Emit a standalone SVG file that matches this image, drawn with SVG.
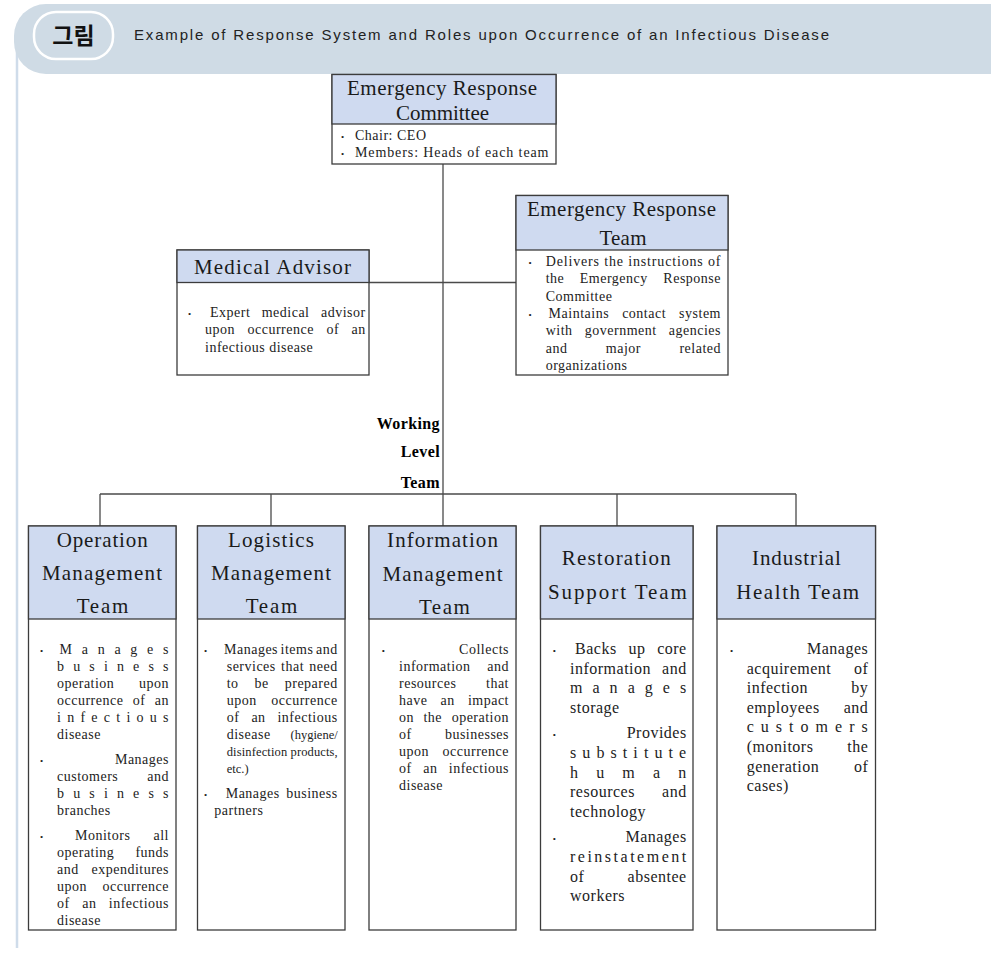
<svg xmlns="http://www.w3.org/2000/svg" width="991" height="956" viewBox="0 0 991 956">
<style>
.hd{fill:#cfdaf0;stroke:#3c3c3c;stroke-width:1.3}
.bx{fill:#ffffff;stroke:#3c3c3c;stroke-width:1.3}
.ln{fill:none;stroke:#4a4a4a;stroke-width:1.3}
.h{font-family:"Liberation Serif","DejaVu Serif",serif;font-size:21px;fill:#1a1a1a;text-anchor:middle}
.t{font-family:"Liberation Serif","DejaVu Serif",serif;font-size:14px;letter-spacing:0.5px;fill:#222}
.tl{font-family:"Liberation Serif","DejaVu Serif",serif;font-size:16px;letter-spacing:0.5px;fill:#222}
.cd{font-family:"Liberation Serif","DejaVu Serif",serif;font-size:12.5px;fill:#222}
.bl{font-family:"Liberation Serif","DejaVu Serif",serif;font-size:9px;fill:#222;text-anchor:middle}
.e{text-anchor:end}
.m{text-anchor:middle}
.wl{font-family:"Liberation Serif","DejaVu Serif",serif;font-size:16px;font-weight:bold;letter-spacing:0.4px;fill:#000;text-anchor:end}
</style>
<g id="frame">
<line x1="17" y1="40" x2="991" y2="40" stroke="#8c8c8c" stroke-width="1"/>
<line x1="17" y1="40" x2="17" y2="948" stroke="#cfdcea" stroke-width="2.5"/>
<rect x="14" y="4" width="1010" height="70" rx="32" fill="#cfdbe5"/>
<rect x="34" y="12" width="79" height="47" rx="22" fill="#cfdbe5" stroke="#ffffff" stroke-width="2.5"/>
<text x="73.5" y="44" font-family="'Noto Sans CJK KR','Noto Sans',sans-serif" font-size="23" font-weight="bold" fill="#111" text-anchor="middle">그림</text>
<text x="134" y="40" font-family="'Liberation Sans',Arial,sans-serif" font-size="15" fill="#222" textLength="695" lengthAdjust="spacing">Example of Response System and Roles upon Occurrence of an Infectious Disease</text>
</g>
<g id="connectors">
<line class="ln" x1="443" y1="164" x2="443" y2="526"/>
<line class="ln" x1="369" y1="282.5" x2="516" y2="282.5"/>
<line class="ln" x1="100" y1="494" x2="796" y2="494"/>
<line class="ln" x1="100" y1="494" x2="100" y2="526"/>
<line class="ln" x1="271" y1="494" x2="271" y2="526"/>
<line class="ln" x1="617" y1="494" x2="617" y2="526"/>
<line class="ln" x1="796" y1="494" x2="796" y2="526"/>
</g>
<g id="working-level-label">
<text class="wl" x="440" y="429">Working</text>
<text class="wl" x="440" y="457">Level</text>
<text class="wl" x="440" y="488">Team</text>
</g>
<g id="committee">
<rect class="bx" x="332" y="74.5" width="224" height="89.5"/>
<rect class="hd" x="332" y="74.5" width="224" height="49.5"/>
<text class="h" x="442" y="95" textLength="190" lengthAdjust="spacing">Emergency Response</text>
<text class="h" x="442.5" y="119.5" textLength="93" lengthAdjust="spacing">Committee</text>
<text class="bl" x="342.5" y="139.5">•</text>
<text class="t" x="355" y="139.5">Chair: CEO</text>
<text class="bl" x="342.5" y="156.5">•</text>
<text class="t" x="355" y="156.5" textLength="194" lengthAdjust="spacing">Members: Heads of each team</text>
</g>
<g id="emergency-response-team">
<rect class="bx" x="516" y="195.5" width="212" height="179.5"/>
<rect class="hd" x="516" y="195.5" width="212" height="54.5"/>
<text class="h" x="621.5" y="216" textLength="189" lengthAdjust="spacing">Emergency Response</text>
<text class="h" x="623" y="245" textLength="47" lengthAdjust="spacing">Team</text>
<text class="bl" x="530" y="266">•</text>
<text class="t" x="545.7" y="266" textLength="175.3" lengthAdjust="spacing">Delivers the instructions of</text>
<text class="t" x="545.7" y="283.3">the</text>
<text class="t m" x="613.8" y="283.3">Emergency</text>
<text class="t e" x="721" y="283.3">Response</text>
<text class="t" x="545.7" y="300.6">Committee</text>
<text class="bl" x="530" y="318">•</text>
<text class="t" x="548.6" y="318">Maintains</text>
<text class="t m" x="644.1" y="318">contact</text>
<text class="t e" x="721" y="318">system</text>
<text class="t" x="545.7" y="335.3">with</text>
<text class="t m" x="620.7" y="335.3">government</text>
<text class="t e" x="721" y="335.3">agencies</text>
<text class="t" x="545.7" y="352.6">and</text>
<text class="t m" x="623.4" y="352.6">major</text>
<text class="t e" x="721" y="352.6">related</text>
<text class="t" x="545.7" y="370">organizations</text>
</g>
<g id="medical-advisor">
<rect class="bx" x="177" y="250" width="192" height="125"/>
<rect class="hd" x="177" y="250" width="192" height="32.5"/>
<text class="h" x="272.5" y="274" textLength="157" lengthAdjust="spacing">Medical Advisor</text>
<text class="bl" x="189.6" y="317">•</text>
<text class="t" x="210" y="317">Expert</text>
<text class="t m" x="285.6" y="317">medical</text>
<text class="t e" x="365.7" y="317">advisor</text>
<text class="t" x="205" y="334.3">upon</text>
<text class="t" x="247.5" y="334.3">occurrence</text>
<text class="t" x="326.4" y="334.3">of</text>
<text class="t e" x="365.7" y="334.3">an</text>
<text class="t" x="205" y="351.6">infectious disease</text>
</g>
<g id="operation-management-team">
<rect class="bx" x="28.5" y="526" width="147.5" height="404"/>
<rect class="hd" x="28.5" y="526" width="147.5" height="93"/>
<text class="h" x="102.2" y="547" textLength="91" lengthAdjust="spacing">Operation</text>
<text class="h" x="102" y="580" textLength="120" lengthAdjust="spacing">Management</text>
<text class="h" x="102.5" y="613" textLength="51.6" lengthAdjust="spacing">Team</text>
<text class="bl" x="41.7" y="654">•</text>
<text class="t" x="59.5" y="654" textLength="109.5" lengthAdjust="spacing">Manages</text>
<text class="t" x="57" y="671" textLength="112" lengthAdjust="spacing">business</text>
<text class="t" x="57" y="688">operation</text>
<text class="t e" x="169" y="688">upon</text>
<text class="t" x="57" y="705">occurrence</text>
<text class="t m" x="139.1" y="705">of</text>
<text class="t e" x="169" y="705">an</text>
<text class="t" x="57" y="722" textLength="112" lengthAdjust="spacing">infectious</text>
<text class="t" x="57" y="739">disease</text>
<text class="bl" x="41.7" y="764">•</text>
<text class="t e" x="169" y="764">Manages</text>
<text class="t" x="57" y="781">customers</text>
<text class="t e" x="169" y="781">and</text>
<text class="t" x="57" y="798" textLength="112" lengthAdjust="spacing">business</text>
<text class="t" x="57" y="815">branches</text>
<text class="bl" x="41.7" y="840">•</text>
<text class="t" x="75" y="840">Monitors</text>
<text class="t e" x="169" y="840">all</text>
<text class="t" x="57" y="857">operating</text>
<text class="t e" x="169" y="857">funds</text>
<text class="t" x="57" y="874">and</text>
<text class="t e" x="169" y="874">expenditures</text>
<text class="t" x="57" y="891">upon</text>
<text class="t e" x="169" y="891">occurrence</text>
<text class="t" x="57" y="908">of</text>
<text class="t m" x="89.3" y="908">an</text>
<text class="t e" x="169" y="908">infectious</text>
<text class="t" x="57" y="925">disease</text>
</g>
<g id="logistics-management-team">
<rect class="bx" x="197.5" y="526" width="147.5" height="404"/>
<rect class="hd" x="197.5" y="526" width="147.5" height="93"/>
<text class="h" x="271" y="547" textLength="86" lengthAdjust="spacing">Logistics</text>
<text class="h" x="271" y="580" textLength="120" lengthAdjust="spacing">Management</text>
<text class="h" x="271.5" y="613" textLength="51.6" lengthAdjust="spacing">Team</text>
<text class="bl" x="205.7" y="654">•</text>
<text class="t" x="224" y="654">Manages</text>
<text class="t m" x="297" y="654">items</text>
<text class="t e" x="337.7" y="654">and</text>
<text class="t" x="226.7" y="671">services</text>
<text class="t m" x="292.6" y="671">that</text>
<text class="t e" x="337.7" y="671">need</text>
<text class="t" x="226.7" y="688">to</text>
<text class="t m" x="261.7" y="688">be</text>
<text class="t e" x="337.7" y="688">prepared</text>
<text class="t" x="226.7" y="705">upon</text>
<text class="t e" x="337.7" y="705">occurrence</text>
<text class="t" x="226.7" y="722">of</text>
<text class="t m" x="258.5" y="722">an</text>
<text class="t e" x="337.7" y="722">infectious</text>
<text class="t" x="226.7" y="739">disease</text>
<text class="cd e" x="337.7" y="739">(hygiene/</text>
<text class="cd" x="226.7" y="756" textLength="111" lengthAdjust="spacing">disinfection products,</text>
<text class="cd" x="226.7" y="773">etc.)</text>
<text class="bl" x="205.7" y="798">•</text>
<text class="t" x="225.7" y="798">Manages</text>
<text class="t e" x="337.7" y="798">business</text>
<text class="t" x="214.3" y="815">partners</text>
</g>
<g id="information-management-team">
<rect class="bx" x="369" y="526" width="147" height="404"/>
<rect class="hd" x="369" y="526" width="147" height="93"/>
<text class="h" x="442.5" y="547" textLength="110.8" lengthAdjust="spacing">Information</text>
<text class="h" x="442.5" y="580.8" textLength="120" lengthAdjust="spacing">Management</text>
<text class="h" x="444.4" y="614" textLength="51" lengthAdjust="spacing">Team</text>
<text class="bl" x="383.3" y="654">•</text>
<text class="t e" x="509" y="654">Collects</text>
<text class="t" x="399" y="671">information</text>
<text class="t e" x="509" y="671">and</text>
<text class="t" x="399" y="688">resources</text>
<text class="t e" x="509" y="688">that</text>
<text class="t" x="399" y="705">have</text>
<text class="t m" x="447.6" y="705">an</text>
<text class="t e" x="509" y="705">impact</text>
<text class="t" x="399" y="722">on</text>
<text class="t m" x="432.8" y="722">the</text>
<text class="t e" x="509" y="722">operation</text>
<text class="t" x="399" y="739">of</text>
<text class="t e" x="509" y="739">businesses</text>
<text class="t" x="399" y="756">upon</text>
<text class="t e" x="509" y="756">occurrence</text>
<text class="t" x="399" y="773">of</text>
<text class="t m" x="430.3" y="773">an</text>
<text class="t e" x="509" y="773">infectious</text>
<text class="t" x="399" y="790">disease</text>
</g>
<g id="restoration-support-team">
<rect class="bx" x="540.5" y="526" width="152.5" height="404"/>
<rect class="hd" x="540.5" y="526" width="152.5" height="93"/>
<text class="h" x="616.2" y="564.5" textLength="109" lengthAdjust="spacing">Restoration</text>
<text class="h" x="617.4" y="598.5" textLength="139" lengthAdjust="spacing">Support Team</text>
<text class="bl" x="554.3" y="654">•</text>
<text class="tl" x="575" y="654">Backs</text>
<text class="tl m" x="636.9" y="654">up</text>
<text class="tl e" x="686.7" y="654">core</text>
<text class="tl" x="570" y="673.6">information</text>
<text class="tl e" x="686.7" y="673.6">and</text>
<text class="tl" x="570" y="693.2" textLength="116.7" lengthAdjust="spacing">manages</text>
<text class="tl" x="570" y="712.8">storage</text>
<text class="bl" x="554.3" y="738.4">•</text>
<text class="tl e" x="686.7" y="738.4">Provides</text>
<text class="tl" x="570" y="758" textLength="116.7" lengthAdjust="spacing">substitute</text>
<text class="tl" x="570" y="777.6" textLength="116.7" lengthAdjust="spacing">human</text>
<text class="tl" x="570" y="797.2">resources</text>
<text class="tl e" x="686.7" y="797.2">and</text>
<text class="tl" x="570" y="816.8">technology</text>
<text class="bl" x="554.3" y="842.4">•</text>
<text class="tl e" x="686.7" y="842.4">Manages</text>
<text class="tl" x="570" y="862" textLength="116.7" lengthAdjust="spacing">reinstatement</text>
<text class="tl" x="570" y="881.6">of</text>
<text class="tl e" x="686.7" y="881.6">absentee</text>
<text class="tl" x="570" y="901.2">workers</text>
</g>
<g id="industrial-health-team">
<rect class="bx" x="717" y="526" width="158.5" height="404"/>
<rect class="hd" x="717" y="526" width="158.5" height="93"/>
<text class="h" x="796.4" y="564.5" textLength="88.7" lengthAdjust="spacing">Industrial</text>
<text class="h" x="797.7" y="598.5" textLength="123" lengthAdjust="spacing">Health Team</text>
<text class="bl" x="731.7" y="654">•</text>
<text class="tl e" x="868.3" y="654">Manages</text>
<text class="tl" x="746.7" y="673.6">acquirement</text>
<text class="tl e" x="868.3" y="673.6">of</text>
<text class="tl" x="746.7" y="693.2">infection</text>
<text class="tl e" x="868.3" y="693.2">by</text>
<text class="tl" x="746.7" y="712.8">employees</text>
<text class="tl e" x="868.3" y="712.8">and</text>
<text class="tl" x="746.7" y="732.4" textLength="121.6" lengthAdjust="spacing">customers</text>
<text class="tl" x="746.7" y="752">(monitors</text>
<text class="tl e" x="868.3" y="752">the</text>
<text class="tl" x="746.7" y="771.6">generation</text>
<text class="tl e" x="868.3" y="771.6">of</text>
<text class="tl" x="746.7" y="791.2">cases)</text>
</g>
</svg>
